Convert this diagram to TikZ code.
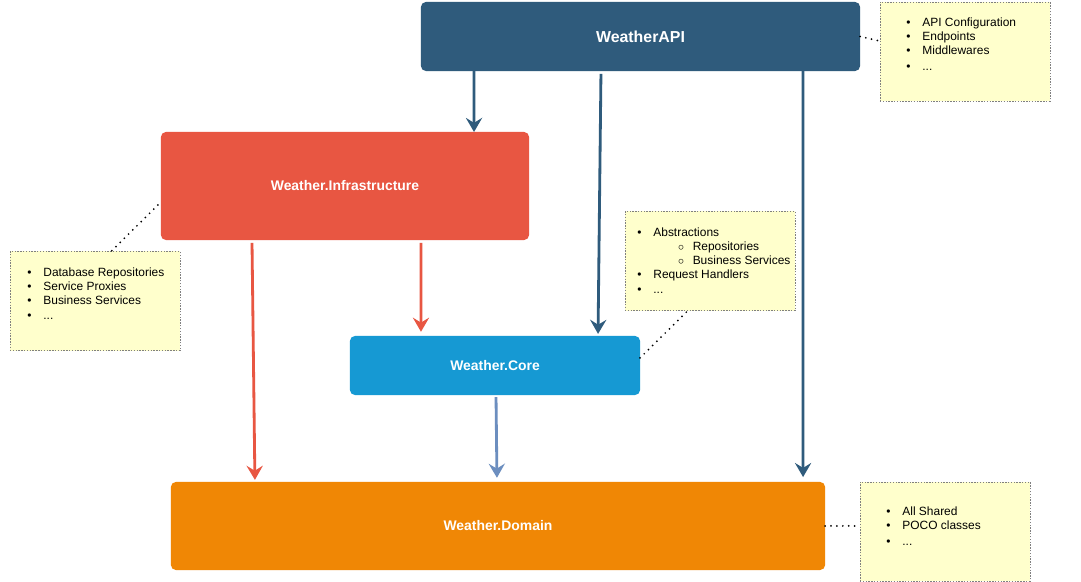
\documentclass[tikz,border=0pt]{standalone}
\usepackage{fontspec}
\setmainfont{Liberation Sans}
\usepackage{tikz}
\usetikzlibrary{arrows.meta}
\usetikzlibrary{backgrounds}

\definecolor{apiblue}{HTML}{2F5B7C}
\definecolor{infrared}{HTML}{E85642}
\definecolor{coreblue}{HTML}{1699D3}
\definecolor{domainorange}{HTML}{F08705}
\definecolor{linkblue}{HTML}{6C8EBF}
\definecolor{notefill}{HTML}{FFFFCC}

\begin{document}
\begin{tikzpicture}[x=0.025cm,y=-0.025cm,
		layerbox/.style={rectangle,rounded corners=3.5pt,inner sep=0pt,outer sep=0pt,text=white,font=\fontsize{9.9}{12}\selectfont\bfseries},
		notebox/.style={rectangle,draw=gray,fill=notefill,dash pattern=on 1pt off 1pt,minimum width=4.25cm,minimum height=2.475cm,inner sep=0pt,outer sep=0pt},
		notetext/.style={anchor=base west,inner sep=0pt,font=\fontsize{8.5}{9.9}\selectfont},
		deparrow/.style={line width=2pt,-{Stealth[length=10pt,width=11.5pt,inset=3.5pt]}},
		dotlink/.style={line width=1.4pt,dash pattern=on 0pt off 4.2pt,line cap=round}]
		\path[use as bounding box,fill=white] (0,0) rectangle (1081,582);

		\begin{scope}[every node/.style={layerbox}]
			\node[fill=apiblue,minimum width=10.975cm,minimum height=1.725cm,font=\fontsize{11.3}{13}\selectfont\bfseries] (api) at (640.5,36.5) {WeatherAPI};
			\node[fill=infrared,minimum width=9.2cm,minimum height=2.7cm] (infra) at (345,186) {Weather.Infrastructure};
			\node[fill=coreblue,minimum width=7.25cm,minimum height=1.475cm] (core) at (495,365.5) {Weather.Core};
			\node[fill=domainorange,minimum width=16.35cm,minimum height=2.2cm] (domain) at (498,526) {Weather.Domain};
		\end{scope}

		\begin{scope}[every node/.style={notebox}]
			\node (apinote) at (965,51.5) {};
			\node (infranote) at (95,301) {};
			\node (corenote) at (710,261) {};
			\node (domainnote) at (945,531.5) {};
		\end{scope}

		\begin{scope}[every node/.style={notetext}]
			\node (apilist) at ([xshift=0.65cm,yshift=-0.625cm]apinote.north west) {\begin{tabular}[t]{@{}l@{\hspace{8.5pt}}l@{}}
				\textbullet & API Configuration\\
				\textbullet & Endpoints\\
				\textbullet & Middlewares\\[1pt]
				\textbullet & ...
			\end{tabular}};
			\node (infralist) at ([xshift=0.425cm,yshift=-0.625cm]infranote.north west) {\begin{tabular}[t]{@{}l@{\hspace{8.5pt}}l@{}}
				\textbullet & Database Repositories\\
				\textbullet & Service Proxies\\
				\textbullet & Business Services\\[1pt]
				\textbullet & ...
			\end{tabular}};
			\node (corelist) at ([xshift=0.3cm,yshift=-0.625cm]corenote.north west) {\begin{tabular}[t]{@{}l@{\hspace{8.5pt}}l@{}}
				\textbullet & Abstractions\\
				 & \makebox[28pt][l]{\hspace{17.5pt}$\circ$}Repositories\\
				 & \makebox[28pt][l]{\hspace{17.5pt}$\circ$}Business Services\\
				\textbullet & Request Handlers\\[1pt]
				\textbullet & ...
			\end{tabular}};
			\node (domainlist) at ([xshift=0.65cm,yshift=-0.85cm]domainnote.north west) {\begin{tabular}[t]{@{}l@{\hspace{8.5pt}}l@{}}
				\textbullet & All Shared\\
				\textbullet & POCO classes\\[1pt]
				\textbullet & ...
			\end{tabular}};
		\end{scope}

		\begin{scope}[every edge/.style={draw=apiblue,deparrow}]
			\path ([xshift=-4.1625cm]api.south) edge ([xshift=3.225cm]infra.north);
			\path ([xshift=-0.9875cm]api.south) edge[shorten <=2pt,shorten >=1.5pt] ([xshift=2.575cm]core.north);
			\path ([xshift=4.0625cm]api.south) edge[shorten >=3.5pt] ([xshift=7.625cm]domain.north);
		\end{scope}

		\begin{scope}[every edge/.style={draw=infrared,deparrow}]
			\path ([xshift=1.9cm]infra.south) edge[shorten <=2pt,shorten >=3pt] ([xshift=-1.85cm]core.north);
			\path ([xshift=-2.325cm]infra.south) edge[shorten <=2pt,shorten >=1.5pt] ([xshift=-6.075cm]domain.north);
		\end{scope}

		\begin{scope}[every edge/.style={draw=linkblue,deparrow}]
			\path ([xshift=0.025cm]core.south) edge[shorten <=1.5pt,shorten >=3pt] ([xshift=-0.025cm]domain.north);
		\end{scope}

		\begin{scope}[every edge/.style={draw=black,dotlink}]
			\path (api.east) edge ([yshift=0.26cm]apinote.west);
			\path ([xshift=-0.075cm,yshift=-0.475cm]infra.west) edge ([xshift=0.4cm]infranote.north);
			\path ([yshift=0.19cm]core.east) edge ([xshift=-0.55cm]corenote.south);
			\path (domain.east) edge ([yshift=0.14cm]domainnote.west);
		\end{scope}
\end{tikzpicture}
\end{document}
